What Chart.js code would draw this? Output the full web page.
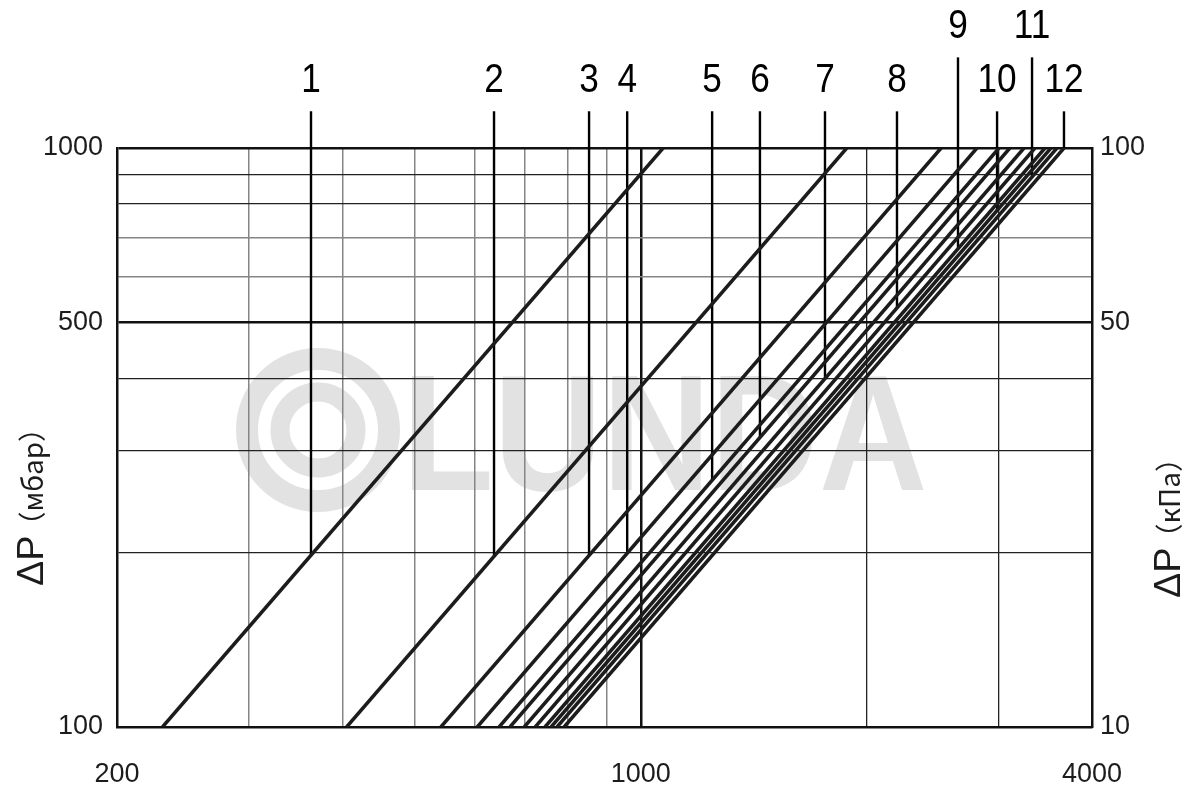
<!DOCTYPE html>
<html>
<head>
<meta charset="utf-8">
<script src="https://cdn.jsdelivr.net/npm/chart.js@4"></script>
<style>
  body { margin: 0; background: #fff; }
  canvas { display: block; }
</style>
</head>
<body>
<canvas id="chart" width="1191" height="789"></canvas>
<script>
const curveNames = ['1', '2', '3', '4', '5', '6', '7', '8', '9', '10', '11', '12'];
// flow where each curve crosses 100 mbar and 1000 mbar
const flowAt100 = [230, 405, 541, 605, 647, 669, 699, 723, 745, 759, 773, 790];
const flowAt1000 = [1071, 1883, 2516, 2809, 3006, 3108, 3246, 3357, 3462, 3526, 3592, 3670];
// marker line of each curve: flow, start on the curve, end above the frame
const markFlow = [363, 637, 853, 959, 1245, 1442, 1761, 2197, 2650, 2988, 3327, 3670];
const markDp = [198, 198, 198, 199, 267, 316, 400, 529, 670, 780, 891, 1000];
const markTop = [1157, 1157, 1157, 1157, 1157, 1157, 1157, 1157, 1434, 1157, 1434, 1157];

const flowTicks = [200, 300, 400, 500, 600, 700, 800, 900, 1000, 2000, 3000, 4000];
const flowLabels = ['200', '1000', '4000'];
const mbarTicks = [100, 200, 300, 400, 500, 600, 700, 800, 900, 1000];
const mbarLabels = ['100', '500', '1000'];
const kpaTicks = [10, 50, 100];
const kpaLabels = ['10', '50', '100'];

const FONT = '"Liberation Sans", Arial, sans-serif';
const INK = '#1c1c1c';

const datasets = [];
curveNames.forEach((name, i) => {
  datasets.push({
    label: 'curve ' + name,
    data: [{ x: flowAt100[i], y: 100 }, { x: flowAt1000[i], y: 1000 }],
    borderColor: INK,
    borderWidth: 3.5,
    pointRadius: 0
  });
});
curveNames.forEach((name, i) => {
  datasets.push({
    label: 'mark ' + name,
    data: [{ x: markFlow[i], y: markDp[i] }, { x: markFlow[i], y: markTop[i] }],
    borderColor: '#000',
    borderWidth: 2.4,
    pointRadius: 0,
    clip: false
  });
});

function gridStyle(value, bold, dark) {
  if (bold.includes(value)) return { c: '#111', w: 2.5 };
  if (dark.includes(value)) return { c: '#222', w: 1.3 };
  return { c: '#858585', w: 1.5 };
}

const paper = {
  id: 'paper',
  beforeDraw(chart) {
    const c = chart.ctx;
    c.save();
    c.fillStyle = '#fff';
    c.fillRect(0, 0, chart.width, chart.height);
    // faint watermark behind the grid
    c.strokeStyle = '#e2e2e2';
    c.lineWidth = 22;
    c.beginPath(); c.arc(318, 430, 71, 0, Math.PI * 2); c.stroke();
    c.lineWidth = 19;
    c.beginPath(); c.arc(318, 430, 38, 0, Math.PI * 2); c.stroke();
    c.fillStyle = '#e2e2e2';
    c.font = 'bold 165px ' + FONT;
    c.translate(402, 490);
    c.scale(0.91, 1);
    c.fillText('LUNDA', 0, 0);
    c.restore();
  }
};

const curveTags = {
  id: 'curveTags',
  afterDatasetsDraw(chart) {
    const c = chart.ctx;
    const xs = chart.scales.x, ys = chart.scales.y;
    c.save();
    c.fillStyle = '#000';
    c.font = '40px ' + FONT;
    c.textAlign = 'center';
    c.textBaseline = 'alphabetic';
    curveNames.forEach((name, i) => {
      const px = xs.getPixelForValue(markFlow[i]);
      const py = ys.getPixelForValue(markTop[i]) - 19;
      c.save();
      c.translate(px, py);
      c.scale(0.88, 1);
      c.fillText(name, 0, 0);
      c.restore();
    });
    c.restore();
  }
};

function sideTitle(c, x, y, unit) {
  c.save();
  c.translate(x, y);
  c.rotate(-Math.PI / 2);
  c.fillStyle = INK;
  c.textBaseline = 'alphabetic';
  c.textAlign = 'left';
  c.font = '36px ' + FONT;
  c.save();
  c.scale(1.05, 1);
  c.fillText('ΔP', 0, 0);
  c.restore();
  const w = c.measureText('ΔP').width * 1.05;
  c.font = '28px "Noto Sans CJK SC", ' + FONT;
  c.fillText('（' + unit + '）', w - 4, 0);
  c.restore();
}

const titles = {
  id: 'titles',
  afterDraw(chart) {
    const c = chart.ctx;
    sideTitle(c, 43, 586, 'мбар');
    sideTitle(c, 1180, 598, 'кПа');
  }
};

new Chart(document.getElementById('chart'), {
  type: 'line',
  data: { datasets },
  plugins: [paper, curveTags, titles],
  options: {
    responsive: false,
    animation: false,
    devicePixelRatio: 1,
    layout: { padding: { top: 148, left: 0, right: 0, bottom: 0 } },
    plugins: { legend: { display: false }, tooltip: { enabled: false } },
    elements: { line: { tension: 0 } },
    scales: {
      x: {
        type: 'logarithmic',
        min: 200,
        max: 4000,
        afterBuildTicks: s => { s.ticks = flowTicks.map(v => ({ value: v })); },
        afterFit: s => { s.height = 62; },
        ticks: {
          autoSkip: false,
          maxRotation: 0,
          padding: 31,
          color: INK,
          font: { size: 27, family: FONT },
          callback: v => flowLabels.includes(String(v)) ? String(v) : ''
        },
        grid: {
          drawTicks: false,
          color: ctx => gridStyle(ctx.tick.value, [1000], [2000, 3000]).c,
          lineWidth: ctx => gridStyle(ctx.tick.value, [1000], [2000, 3000]).w
        },
        border: { color: '#111', width: 2.5 }
      },
      y: {
        type: 'logarithmic',
        position: 'left',
        min: 100,
        max: 1000,
        afterBuildTicks: s => { s.ticks = mbarTicks.map(v => ({ value: v })); },
        afterFit: s => { s.width = 117; },
        ticks: {
          autoSkip: false,
          padding: 14,
          color: INK,
          font: { size: 27, family: FONT },
          callback: v => mbarLabels.includes(String(v)) ? String(v) : ''
        },
        grid: {
          drawTicks: false,
          color: ctx => gridStyle(ctx.tick.value, [500, 1000], [200, 300, 400, 800, 900]).c,
          lineWidth: ctx => gridStyle(ctx.tick.value, [500, 1000], [200, 300, 400, 800, 900]).w
        },
        border: { color: '#111', width: 2.5 }
      },
      y2: {
        type: 'logarithmic',
        position: 'right',
        min: 10,
        max: 100,
        afterBuildTicks: s => { s.ticks = kpaTicks.map(v => ({ value: v })); },
        afterFit: s => { s.width = 99; },
        ticks: {
          autoSkip: false,
          padding: 8,
          color: INK,
          font: { size: 27, family: FONT },
          callback: v => kpaLabels.includes(String(v)) ? String(v) : ''
        },
        grid: { drawTicks: false, drawOnChartArea: false },
        border: { color: '#111', width: 2.5 }
      }
    }
  }
});
</script>
</body>
</html>
